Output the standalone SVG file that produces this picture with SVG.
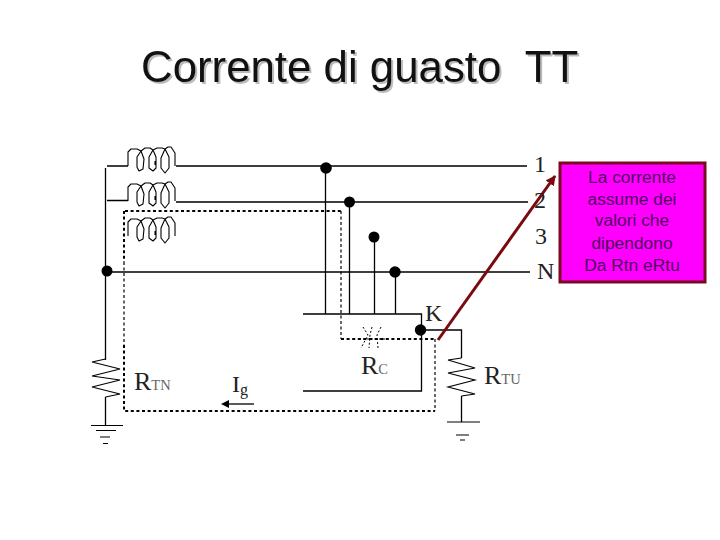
<svg xmlns="http://www.w3.org/2000/svg" width="720" height="540" viewBox="0 0 720 540">
<style>
.w{fill:none;stroke:#000;stroke-width:1.3}
.g{fill:none;stroke:#000;stroke-width:1.1}
.coil{fill:none;stroke:#000;stroke-width:1.1;stroke-linejoin:round}
.dt{fill:none;stroke:#000;stroke-width:2;stroke-dasharray:3 2.6}
.dn{fill:none;stroke:#000;stroke-width:1.2;stroke-dasharray:3 2.5}
.dot{fill:#000}
.s{font-family:"Liberation Serif",serif;fill:#222;font-size:24px}
.r{font-size:26px}
.sub{font-size:14.500px;fill:#666}
.t{font-family:"Liberation Sans",Arial,sans-serif;font-size:43.800px;white-space:pre;fill:#111;filter:drop-shadow(2px 2px 0 #bbb)}
.c{font-family:"Liberation Sans",Arial,sans-serif;font-size:17.400px;fill:#50005f;text-anchor:middle}
</style>
<defs>
<path id="coilshape" class="coil" d="M0 19V5L3 2H9L13 4L9 10V20L11 24L15 22L16 12L13 4L17 1H22L25 3L21 10V21L25 24L28 21V10L25 3L29 1H34L37 2L33 11V21L37 26L41 21V10L37 2L40 0H43L47 6V19M27 14V18"/>
<marker id="ah" markerUnits="userSpaceOnUse" markerWidth="12" markerHeight="12" refX="9" refY="5" orient="auto"><path d="M0 0L10 5L0 10Z" fill="#7b0a10"/></marker>
</defs>
<rect width="720" height="540" fill="#fff"/>
<g id="title">
<text class="t" x="141" y="82">Corrente di guasto  TT</text>
</g>
<g id="connectors">
<path class="w" d="M107 166H128M176 166H527M107 200.500H128M176 202H528M105.500 168V360M105.500 272H530"/>
<path class="w" d="M325.500 168V314M349.500 202V314M374.500 237V314M395.500 272V314M303 314H421.500V391H303M421 330H461.500V358M461.500 396V422M105.500 397V425"/>
<path class="dt" d="M125 211H341M124 211V262M124 345V411H435M341 339H435"/>
<path class="dn" d="M124 262V345M341 211V339M435 339V411"/>
<path d="M438 340L555 176" stroke="#7b0a10" stroke-width="3" fill="none" marker-end="url(#ah)"/>
<path class="w" d="M254 404H228"/>
<path d="M221 404L229 400V408Z"/>
</g>
<g id="coil1"><use href="#coilshape" x="128" y="147"/></g>
<g id="coil2"><use href="#coilshape" x="128" y="182"/></g>
<g id="coil3"><use href="#coilshape" x="128" y="217"/></g>
<g id="junction-1"><circle class="dot" cx="326" cy="168" r="5.800"/></g>
<g id="junction-2"><circle class="dot" cx="349.500" cy="202" r="5.500"/></g>
<g id="junction-3"><circle class="dot" cx="374" cy="237" r="5.500"/></g>
<g id="junction-n"><circle class="dot" cx="395" cy="272" r="5.700"/></g>
<g id="junction-l"><circle class="dot" cx="107" cy="271" r="5.500"/></g>
<g id="junction-k"><circle class="dot" cx="420.500" cy="330" r="5.700"/></g>
<g id="rtn"><path class="g" d="M105.500 359L92 362L120 369L92 376L120 380L92 387L120 394L105.500 397"/>
<path class="g" d="M91 425.500H123M96 430.500H116M100 437H110M103 443.500H108"/>
<text class="s r" x="134" y="390">R<tspan class="sub">TN</tspan></text></g>
<g id="rtu"><path class="g" d="M461.500 358L448 360L475 368L448 373L475 380L448 387L475 394L461.500 396"/>
<path class="g" d="M447 422H480M456 435H469M460 440H465"/>
<text class="s r" x="484" y="384">R<tspan class="sub">TU</tspan></text></g>
<g id="rc"><path class="dn" style="stroke-width:1;stroke-dasharray:2 2" d="M363 327L368 335L361 348M372 327L370 335L369 348M381 327L377 335L378 348M359 339H385"/>
<text class="s r" x="361" y="374">R<tspan class="sub">C</tspan></text></g>
<g id="labels">
<text class="s" x="534" y="172">1</text>
<text class="s" x="534" y="208">2</text>
<text class="s" x="535" y="244">3</text>
<text class="s" x="537" y="279">N</text>
<text class="s" x="425" y="321">K</text>
<text class="s" x="232" y="392">I<tspan font-size="16" dy="3">g</tspan></text>
</g>
<g id="callout">
<rect x="560" y="163" width="145" height="119" fill="#ff00ff" stroke="#7b0a20" stroke-width="3"/>
<text class="c" x="632" y="183">La corrente</text>
<text class="c" x="632" y="205">assume dei</text>
<text class="c" x="632" y="226">valori che</text>
<text class="c" x="632" y="249">dipendono</text>
<text class="c" x="632" y="271">Da Rtn eRtu</text>
</g>
</svg>
